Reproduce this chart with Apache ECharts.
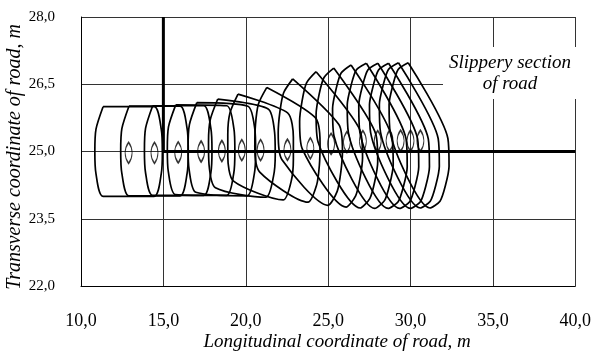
<!DOCTYPE html>
<html>
<head>
<meta charset="utf-8">
<script src="https://cdn.jsdelivr.net/npm/echarts@6/dist/echarts.min.js"></script>
<style>html,body{margin:0;padding:0;background:#fff}#chart{width:594px;height:353px}</style>
</head>
<body>
<div id="chart"></div>
<script>
// Axis ticks
const xTicks = [10, 15, 20, 25, 30, 35, 40];
const yTicks = [22, 23.5, 25, 26.5, 28];

// Vehicle contours (longitudinal m, transverse m)
const contour01 = [[11.34,26.00],[10.91,25.50],[10.84,25.00],[10.91,24.50],[11.34,24.00],[14.44,24.00],[14.87,24.50],[14.94,25.00],[14.87,25.50],[14.44,26.00]];
const contour02 = [[12.91,26.01],[12.48,25.51],[12.41,25.01],[12.48,24.51],[12.91,24.01],[16.01,24.01],[16.44,24.51],[16.51,25.01],[16.44,25.51],[16.01,26.01]];
const contour03 = [[14.35,26.02],[13.92,25.52],[13.85,25.02],[13.92,24.52],[14.35,24.02],[17.45,24.02],[17.88,24.52],[17.95,25.02],[17.88,25.52],[17.45,26.02]];
const contour04 = [[15.75,26.04],[15.31,25.55],[15.24,25.05],[15.30,24.55],[15.73,24.04],[18.83,24.02],[19.27,24.51],[19.34,25.01],[19.28,25.51],[18.85,26.02]];
const contour05 = [[17.03,26.09],[16.58,25.60],[16.50,25.10],[16.56,24.60],[16.97,24.09],[20.07,24.01],[20.52,24.50],[20.60,25.00],[20.55,25.50],[20.13,26.01]];
const contour06 = [[18.30,26.17],[17.84,25.70],[17.74,25.21],[17.77,24.71],[18.16,24.19],[21.22,23.98],[21.68,24.44],[21.79,24.93],[21.75,25.43],[21.36,25.95]];
const contour07 = [[19.53,26.28],[19.04,25.86],[18.91,25.38],[18.91,24.89],[19.26,24.34],[22.27,23.92],[22.76,24.34],[22.89,24.82],[22.89,25.32],[22.54,25.86]];
const contour08 = [[21.28,26.43],[20.77,26.06],[20.59,25.60],[20.55,25.11],[20.85,24.54],[23.78,23.87],[24.30,24.25],[24.47,24.70],[24.51,25.19],[24.21,25.76]];
const contour09 = [[22.85,26.62],[22.30,26.31],[22.07,25.88],[21.97,25.41],[22.19,24.82],[24.99,23.80],[25.55,24.11],[25.77,24.54],[25.87,25.01],[25.65,25.60]];
const contour10 = [[24.27,26.78],[23.69,26.53],[23.42,26.13],[23.27,25.67],[23.43,25.06],[26.09,23.76],[26.67,24.01],[26.94,24.41],[27.09,24.87],[26.93,25.48]];
const contour11 = [[25.34,26.86],[24.75,26.65],[24.45,26.27],[24.27,25.83],[24.39,25.21],[26.94,23.74],[27.53,23.95],[27.83,24.33],[28.01,24.77],[27.89,25.39]];
const contour12 = [[26.39,26.93],[25.79,26.75],[25.48,26.39],[25.27,25.96],[25.36,25.34],[27.83,23.73],[28.43,23.91],[28.74,24.27],[28.95,24.70],[28.86,25.33]];
const contour13 = [[27.32,26.97],[26.71,26.82],[26.39,26.47],[26.16,26.04],[26.23,25.42],[28.64,23.73],[29.25,23.88],[29.58,24.23],[29.80,24.66],[29.73,25.28]];
const contour14 = [[28.02,26.97],[27.41,26.82],[27.09,26.47],[26.86,26.04],[26.93,25.42],[29.34,23.73],[29.95,23.88],[30.28,24.23],[30.50,24.66],[30.43,25.28]];
const contour15 = [[28.67,26.97],[28.06,26.82],[27.74,26.47],[27.51,26.04],[27.58,25.42],[29.99,23.73],[30.60,23.88],[30.93,24.23],[31.15,24.66],[31.08,25.28]];
const contour16 = [[29.27,26.98],[28.66,26.83],[28.34,26.48],[28.11,26.05],[28.18,25.43],[30.59,23.74],[31.20,23.89],[31.53,24.24],[31.75,24.67],[31.68,25.29]];
const contour17 = [[29.86,26.98],[29.25,26.83],[28.93,26.48],[28.70,26.05],[28.77,25.43],[31.18,23.74],[31.79,23.89],[32.12,24.24],[32.34,24.67],[32.27,25.29]];

// Small inner marks (centre points)
const lensX = [12.89, 14.46, 15.90, 17.29, 18.55, 19.76, 20.90, 22.53, 23.92, 25.18, 26.14, 27.11, 28.01, 28.73, 29.40, 30.00, 30.60];
const lensY = [24.97, 24.97, 24.98, 25.00, 25.01, 25.03, 25.03, 25.04, 25.07, 25.17, 25.21, 25.23, 25.23, 25.24, 25.24, 25.24, 25.24];

// Bold reference line
const boldLine = [[15, 28], [15, 25], [40, 25]];

// Texts
const xTitle = 'Longitudinal coordinate of road, m';
const yTitle = 'Transverse coordinate of road, m';
const noteText = 'Slippery section\nof road';

const contours = [contour01, contour02, contour03, contour04, contour05, contour06, contour07, contour08, contour09,
  contour10, contour11, contour12, contour13, contour14, contour15, contour16, contour17];

const FONT = '"Liberation Serif", "DejaVu Serif", serif';
const fmt = v => v.toFixed(1).replace('.', ',');

const series = [];
series.push({
  type: 'line', data: boldLine, symbol: 'none', silent: true, z: 2,
  lineStyle: { color: '#000', width: 3 }
});
contours.forEach(c => {
  series.push({
    type: 'line', data: c.concat([c[0]]), symbol: 'none', smooth: 0.25, silent: true, z: 3,
    lineStyle: { color: '#000', width: 1.7 }
  });
});
series.push({
  type: 'scatter', data: lensX.map((x, i) => [x, lensY[i]]), silent: true, z: 4,
  symbol: 'path://M5,0 C8.5,6 8.5,14 5,20 C1.5,14 1.5,6 5,0 Z',
  symbolSize: [7, 21],
  itemStyle: { color: 'rgba(255,255,255,0)', borderColor: '#000', borderWidth: 1.5 }
});

const chart = echarts.init(document.getElementById('chart'), null, { renderer: 'canvas' });
chart.setOption({
  animation: false,
  backgroundColor: '#fff',
  grid: { left: 81, right: 16, top: 17, bottom: 67 },
  xAxis: {
    type: 'value', min: xTicks[0], max: xTicks[xTicks.length - 1], interval: xTicks[1] - xTicks[0],
    axisLine: { show: true, lineStyle: { color: '#000', width: 1 } },
    axisTick: { show: false },
    splitLine: { show: true, lineStyle: { color: '#333', width: 1 } },
    axisLabel: { formatter: fmt, color: '#000', fontSize: 18, fontFamily: FONT, margin: 26 }
  },
  yAxis: {
    type: 'value', min: yTicks[0], max: yTicks[yTicks.length - 1], interval: yTicks[1] - yTicks[0],
    axisLine: { show: true, lineStyle: { color: '#000', width: 1 } },
    axisTick: { show: false },
    splitLine: { show: true, lineStyle: { color: '#333', width: 1 } },
    axisLabel: { formatter: fmt, color: '#000', fontSize: 15, fontFamily: FONT, margin: 26 }
  },
  graphic: [
    { type: 'rect', left: 443, top: 47, z: 10, shape: { width: 134, height: 52 }, style: { fill: '#fff' } },
    { type: 'text', z: 11, x: 510, y: 73, style: { text: noteText, textAlign: 'center', textVerticalAlign: 'middle',
      fill: '#000', font: 'italic 19px ' + FONT, lineHeight: 21 } },
    { type: 'text', z: 11, x: 337, y: 342, style: { text: xTitle, textAlign: 'center', textVerticalAlign: 'middle',
      fill: '#000', font: 'italic 19px ' + FONT } },
    { type: 'text', z: 11, x: 15, y: 157, rotation: Math.PI / 2, style: { text: yTitle, textAlign: 'center', textVerticalAlign: 'middle',
      fill: '#000', font: 'italic 20px ' + FONT } }
  ],
  series: series
});
</script>
</body>
</html>
